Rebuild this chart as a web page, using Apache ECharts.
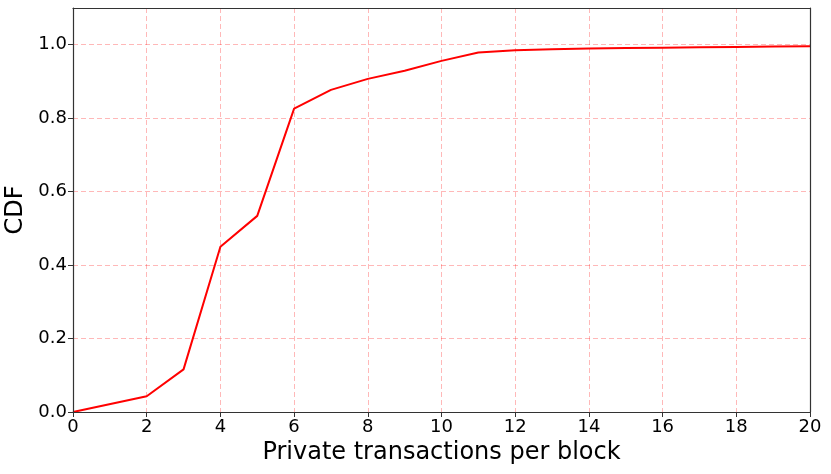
<!DOCTYPE html>
<html><head><meta charset="utf-8">
<script src="https://cdn.jsdelivr.net/npm/echarts@6/dist/echarts.min.js"></script>
<style>html,body{margin:0;padding:0;background:#fff}#c{width:831px;height:474px}</style>
</head><body><div id="c"></div>
<script>
const xValues = [0, 2, 3, 4, 5, 6, 7, 8, 9, 10, 11, 12, 13, 14, 15, 16, 17, 18, 19, 20];
const cdfValues = [0.0, 0.043, 0.116, 0.450, 0.534, 0.826, 0.877, 0.907, 0.929, 0.956, 0.979, 0.985, 0.988, 0.990, 0.991, 0.992, 0.993, 0.994, 0.995, 0.996];
const xTicks = [0, 2, 4, 6, 8, 10, 12, 14, 16, 18, 20];
const yTicks = [0.0, 0.2, 0.4, 0.6, 0.8, 1.0];

const chart = echarts.init(document.getElementById('c'), null, {renderer: 'canvas'});
const font = 'DejaVu Sans';
const gridLine = {show: true, lineStyle: {color: 'rgba(255,0,0,0.28)', type: [5, 3], width: 1}};
const frameAxis = {show: true, axisLine: {show: true, onZero: false, lineStyle: {color: '#333', width: 1.2}},
  axisTick: {show: false}, axisLabel: {show: false}, splitLine: {show: false}, z: 5};
chart.setOption({
  animation: false,
  grid: {left: 73, right: 21, top: 8, bottom: 62, containLabel: false, outerBoundsMode: 'none', show: false},
  xAxis: [{
    type: 'value', min: 0, max: 20, interval: 2,
    name: 'Private transactions per block', nameLocation: 'middle', nameGap: 29,
    nameTextStyle: {fontFamily: font, fontSize: 24, color: '#000'},
    axisLine: {show: true, onZero: false, lineStyle: {color: '#333', width: 1.2}},
    axisTick: {show: true, length: 5, lineStyle: {color: '#333'}, customValues: xTicks},
    axisLabel: {fontFamily: font, fontSize: 18, color: '#000', margin: 6, customValues: xTicks,
      formatter: v => String(v)},
    splitLine: gridLine, z: 5
  }, Object.assign({type: 'value', min: 0, max: 20, position: 'top'}, frameAxis)],
  yAxis: [{
    type: 'value', min: 0, max: 1.1, interval: 0.2,
    name: 'CDF', nameLocation: 'middle', nameGap: 37,
    nameTextStyle: {fontFamily: font, fontSize: 24, color: '#000'},
    axisLine: {show: true, onZero: false, lineStyle: {color: '#333', width: 1.2}},
    axisTick: {show: true, length: 5, lineStyle: {color: '#333'}, customValues: yTicks},
    axisLabel: {fontFamily: font, fontSize: 18, color: '#000', margin: 6, customValues: yTicks,
      formatter: v => Number(v).toFixed(1)},
    splitLine: gridLine, z: 5
  }, Object.assign({type: 'value', min: 0, max: 1.1, position: 'right'}, frameAxis)],
  series: [{
    type: 'line', xAxisIndex: 0, yAxisIndex: 0,
    data: xValues.map((x, i) => [x, cdfValues[i]]),
    showSymbol: false, symbol: 'none',
    lineStyle: {color: '#ff0000', width: 2},
    clip: true, z: 3
  }]
});
</script></body></html>
